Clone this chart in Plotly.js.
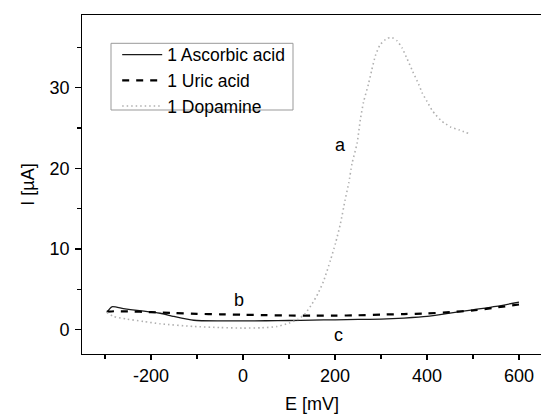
<!DOCTYPE html>
<html>
<head>
<meta charset="utf-8">
<script src="https://cdn.plot.ly/plotly-3.0.1.min.js"></script>
<style>
html, body { margin: 0; padding: 0; background: #fff; overflow: hidden; }
#chart { width: 542px; height: 414px; }
</style>
</head>
<body>
<div id="chart"></div>
<script>
// Potential (mV) and current (µA)
const E_ascorbic = [-296, -285, -260, -230, -200, -180, -150, -107, -50, 0, 50, 100, 150, 200, 250, 300, 350, 400, 450, 500, 550, 600];
const I_ascorbic = [2.15, 2.85, 2.62, 2.4, 2.2, 2.05, 1.65, 1.18, 1.1, 1.1, 1.12, 1.15, 1.2, 1.24, 1.28, 1.32, 1.45, 1.65, 2.06, 2.48, 2.9, 3.43];

const E_uric = [-296, -280, -250, -200, -150, -100, -50, 0, 50, 100, 150, 200, 250, 300, 350, 400, 450, 500, 550, 600];
const I_uric = [2.25, 2.3, 2.27, 2.19, 2.08, 1.98, 1.92, 1.86, 1.81, 1.77, 1.75, 1.75, 1.8, 1.88, 1.95, 2.02, 2.19, 2.39, 2.76, 3.13];

const E_dopamine = [-296, -281, -252, -216, -180, -107, -50, 0, 40, 74, 100, 120, 135, 150, 163, 175, 190, 201, 212, 222, 230, 237, 248, 255, 262, 273, 280, 288, 298, 313, 324, 335, 346, 355, 369, 382, 390, 400, 411, 418, 431, 441, 452, 471, 491];
const I_dopamine = [2.15, 1.65, 1.32, 1.03, 0.74, 0.41, 0.28, 0.21, 0.25, 0.41, 0.83, 1.3, 2.0, 3.2, 4.5, 6.0, 8.6, 10.7, 13.2, 16.1, 18.2, 20.6, 23.1, 26.0, 28.2, 30.5, 32.2, 34.0, 35.3, 36.1, 36.2, 35.8, 34.9, 33.8, 32.0, 30.4, 29.3, 28.3, 27.2, 26.7, 25.9, 25.5, 25.1, 24.75, 24.3];

const seriesNames = ["1 Ascorbic acid", "1 Uric acid", "1 Dopamine"];
const curveLabels = ["a", "b", "c"];
const labelX = [212, -8, 208];
const labelY = [22.9, 3.7, -0.62];

const xTickVals = [-200, 0, 200, 400, 600];
const xTickText = ["-200", "0", "200", "400", "600"];
const yTickVals = [0, 10, 20, 30];
const yTickText = ["0", "10", "20", "30"];

const FONT = "Liberation Sans, Arial, sans-serif";

const traces = [
  { x: E_ascorbic, y: I_ascorbic, name: seriesNames[0], mode: "lines",
    line: { color: "#1a1a1a", width: 1.3, shape: "spline", smoothing: 0.6 } },
  { x: E_uric, y: I_uric, name: seriesNames[1], mode: "lines",
    line: { color: "#000", width: 2.2, dash: "7px,7px", shape: "spline", smoothing: 0.6 } },
  { x: E_dopamine, y: I_dopamine, name: seriesNames[2], mode: "lines",
    line: { color: "#b0b0b0", width: 1.6, dash: "1.5px,3px", shape: "spline", smoothing: 0.6 } }
];

const annotations = curveLabels.map((t, i) => ({
  x: labelX[i], y: labelY[i], xref: "x", yref: "y", text: t, showarrow: false,
  font: { family: FONT, size: 18, color: "#000" }
}));

const layout = {
  width: 542, height: 414,
  margin: { l: 82, r: 0, t: 15, b: 60 },
  paper_bgcolor: "#fff", plot_bgcolor: "#fff",
  font: { family: FONT, size: 18, color: "#000" },
  showlegend: true,
  legend: {
    x: 0.0765, y: 0.936, xanchor: "left", yanchor: "top",
    borderwidth: 0, bgcolor: "rgba(255,255,255,0)",
    font: { family: FONT, size: 17.5, color: "#000" },
    itemwidth: 40, tracegroupgap: 0
  },
  shapes: [{
    type: "rect", xref: "paper", yref: "paper",
    x0: (111 - 82) / 460, x1: (293 - 82) / 460,
    y0: (354 - 110) / 339, y1: (354 - 43.3) / 339,
    line: { color: "#999", width: 1 }, fillcolor: "rgba(0,0,0,0)"
  }],
  xaxis: {
    range: [-350, 650], tickmode: "array", tickvals: xTickVals, ticktext: xTickText,
    showgrid: false, zeroline: false,
    showline: true, mirror: true, linecolor: "#000", linewidth: 1.3,
    ticks: "outside", ticklen: 5, tickwidth: 1.2, tickcolor: "#000",
    ticklabelstandoff: 0,
    minor: { dtick: 100, tick0: 0, ticks: "outside", ticklen: 4, tickwidth: 1.2, tickcolor: "#000" },
    tickfont: { family: FONT, size: 18, color: "#000" },
    title: { text: "E [mV]", font: { family: FONT, size: 18, color: "#000" }, standoff: 12 }
  },
  yaxis: {
    range: [-3, 39], tickmode: "array", tickvals: yTickVals, ticktext: yTickText,
    showgrid: false, zeroline: false,
    showline: true, mirror: true, linecolor: "#000", linewidth: 1.3,
    ticks: "outside", ticklen: 5.5, tickwidth: 1.2, tickcolor: "#000",
    ticklabelstandoff: 2,
    minor: { dtick: 5, tick0: 0, ticks: "outside", ticklen: 3.5, tickwidth: 1.2, tickcolor: "#000" },
    tickfont: { family: FONT, size: 18, color: "#000" },
    title: { text: "I [µA]", font: { family: FONT, size: 18, color: "#000" }, standoff: 10 }
  },
  annotations: annotations
};

Plotly.newPlot("chart", traces, layout, { displayModeBar: false, staticPlot: true });
</script>
</body>
</html>
